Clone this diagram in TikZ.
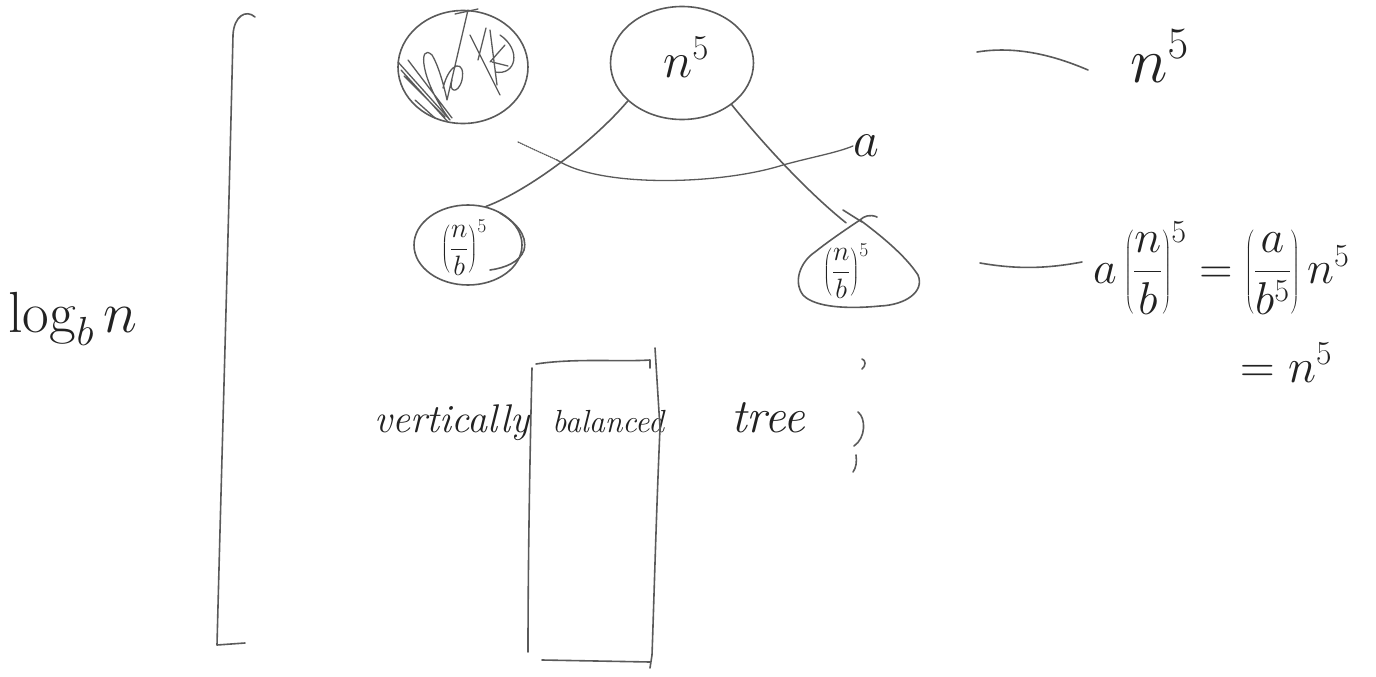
\RequirePackage{fix-cm}
\documentclass[tikz,border=0pt]{standalone}
\usetikzlibrary{shapes.geometric}
\definecolor{pen}{HTML}{5A5A5A}
\definecolor{ink}{HTML}{222222}
\newcommand{\dfr}[2]{{\displaystyle\frac{#1}{#2}}}
\begin{document}
\begin{tikzpicture}[x=1pt,y=-1pt,
  stroke/.style={draw=pen,line width=1.6pt,line cap=round,line join=round},
  inkt/.style={text=ink,inner sep=0pt},
  blob/.style={stroke,ellipse,inner sep=0pt}]
\useasboundingbox (0,0) rectangle (1376,677);

% left bracket (height of tree)
\draw[stroke] (255,17) .. controls (246,9) and (234,16) .. (233,35)
  .. controls (228,250) and (222,450) .. (217,645) -- (245,643);
\node[inkt,anchor=base west,font=\fontsize{58}{68}\selectfont] (logn) at (8,332) {$\log_b n$};

% crossed-out node
\node[blob,minimum width=130,minimum height=113] (xc) at (463,67) {};
\draw[stroke,line width=1.3pt] (398,62) -- (450,120) (404,76) -- (445,117) (401,70) -- (448,122)
  (408,60) -- (452,118) (415,100) -- (435,118)
  (450,120) .. controls (420,80) and (418,42) .. (432,55) .. controls (440,68) and (446,95) .. (447,100)
  (447,100) -- (468,10) (455,14) -- (478,9)
  (443,88) .. controls (450,60) and (466,60) .. (462,80) .. controls (458,95) and (448,92) .. (452,80)
  (470,35) -- (500,95) (490,30) -- (497,85) (490,62) -- (505,45) (492,62) -- (508,66)
  (478,60) -- (486,28) (500,35) .. controls (522,50) and (516,76) .. (495,72);

% root
\node[blob,minimum width=143,minimum height=113] (root) at (682,63) {};
\node[inkt,font=\fontsize{50}{60}\selectfont] (roottxt) at (686,57) {$n^{5}$};

% children
\node[blob,minimum width=108,minimum height=80] (lc) at (468,245) {};
\node[inkt,font=\fontsize{28}{34}\selectfont] (lctxt) at (464,248) {$\left(\dfr{n}{b}\right)^{5}$};
\draw[stroke] (500,213) .. controls (515,222) and (528,235) .. (524,250)
  .. controls (520,262) and (505,268) .. (490,270);

\node[minimum width=120,minimum height=92,inner sep=0pt] (rc) at (846,269) {};
\node[inkt,font=\fontsize{28}{34}\selectfont] (rctxt) at (846,271) {$\left(\dfr{n}{b}\right)^{5}$};
\draw[stroke] (877,217) .. controls (870,214) and (864,216) .. (860,220)
  .. controls (880,235) and (905,255) .. (918,275)
  .. controls (925,292) and (905,305) .. (880,306)
  .. controls (850,309) and (815,308) .. (803,295)
  .. controls (793,282) and (800,262) .. (815,252)
  .. controls (830,240) and (848,228) .. (860,220);
\draw[stroke] (843,210) -- (862,222);

% edges
\draw[stroke] (root.215) .. controls (595,140) and (530,190) .. (lc.65);
\draw[stroke] (root.-40) .. controls (760,140) and (805,190) .. (rc.north);

% branching factor arc
\coordinate (arcA) at (518,142);
\coordinate (arcB) at (557,160);
\node[inkt,font=\fontsize{50}{60}\selectfont] (alab) at (866,146) {$a$};
\draw[stroke,line width=1.2pt,densely dotted] (arcA) .. controls (535,150) .. (arcB);
\draw[stroke,line width=1.3pt] (arcB) .. controls (600,188) and (720,185) .. (783,165)
  .. controls (812,157) and (836,153) .. (alab.west);

% level costs
\node[inkt,anchor=base west,font=\fontsize{64}{74}\selectfont] (c0) at (1130,82) {$n^{5}$};
\draw[stroke] (977,52) .. controls (1020,45) and (1060,58) .. (1088,70);
\node[inkt,anchor=west,font=\fontsize{46}{56}\selectfont] (c1) at (1093,268)
  {$a\left(\dfr{n}{b}\right)^{5}=\left(\dfr{a}{b^{5}}\right)n^{5}$};
\draw[stroke] (980,263) .. controls (1020,270) and (1050,268) .. (1082,262);
\node[inkt,anchor=base west,font=\fontsize{48}{56}\selectfont] (c2) at (1240,382) {$=n^{5}$};

% vertically balanced tree
\node[inkt,anchor=base,font=\fontsize{40}{48}\selectfont\itshape] (w1) at (452,432) {vertically};
\node[inkt,anchor=base,font=\fontsize{32}{40}\selectfont\itshape] (w2) at (608,432) {balanced};
\node[inkt,anchor=base,font=\fontsize{48}{56}\selectfont\itshape] (w3) at (768,432) {tree};

% column box
\draw[stroke] (532,368) .. controls (530,450) and (528,560) .. (528,652);
\draw[stroke] (536,364) .. controls (575,358) and (620,362) .. (650,360) -- (650,368);
\draw[stroke] (655,348) -- (660,428) .. controls (656,520) and (654,600) .. (652,655) -- (650,668);
\draw[stroke] (542,660) -- (650,662);

% small marks
\draw[stroke] (862,359) .. controls (866,360) and (866,366) .. (862,369);
\draw[stroke] (858,412) .. controls (866,418) and (866,438) .. (854,446);
\draw[stroke] (856,455) .. controls (857,462) and (856,468) .. (853,472);
\end{tikzpicture}
\end{document}
